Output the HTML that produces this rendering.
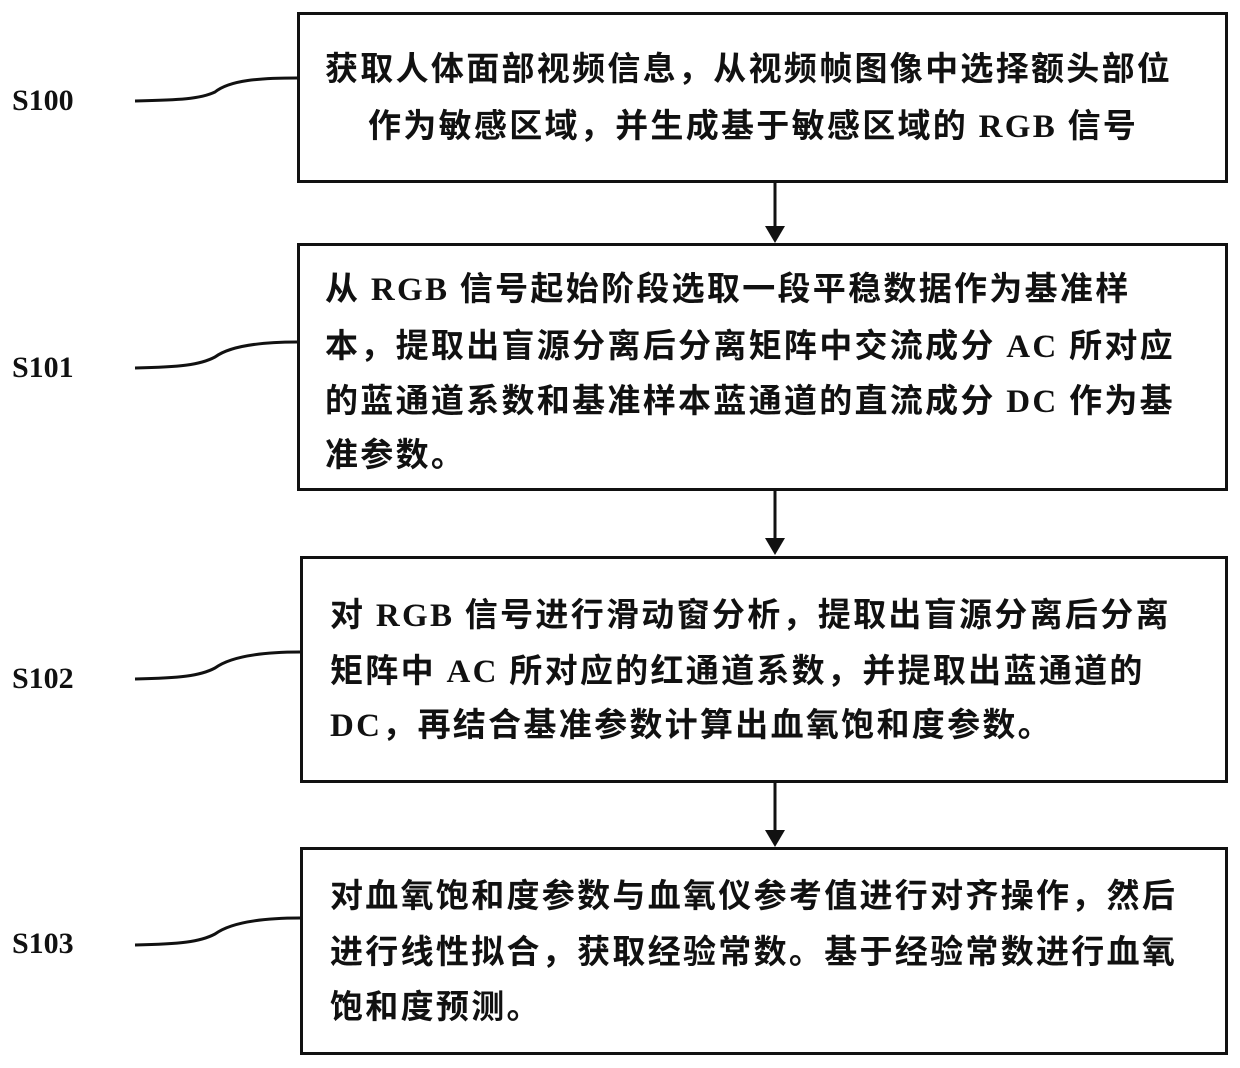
<!DOCTYPE html>
<html><head><meta charset="utf-8"><style>
body{margin:0;background:#fff;}
#c{position:relative;width:1240px;height:1068px;overflow:hidden;background:#fff;}
.box{position:absolute;border:3px solid #111;box-sizing:border-box;}
.t{position:absolute;font-family:"Liberation Serif","Noto Sans CJK SC",serif;font-weight:bold;font-size:33px;letter-spacing:2.3px;white-space:nowrap;color:#111;line-height:40px;}
.s{position:absolute;font-family:"Liberation Serif",serif;font-weight:bold;font-size:30px;color:#111;}
</style></head><body><div id="c">
<svg width="1240" height="1068" style="position:absolute;left:0;top:0">
<g stroke="#111" stroke-width="3" fill="none">
<path d="M135 101 C180 100 200 99 215 92 C230 80 260 78 297 78"/>
<path d="M135 368 C180 367 200 365 215 357 C230 346 260 342 297 342"/>
<path d="M135 679 C180 678 200 676 215 668 C230 657 260 652 300 652"/>
<path d="M135 945 C180 944 200 942 215 934 C230 923 260 918 300 918"/>
<line x1="775" y1="182" x2="775" y2="228"/>
<line x1="775" y1="490" x2="775" y2="540"/>
<line x1="775" y1="782" x2="775" y2="832"/>
</g>
<g fill="#111">
<polygon points="765,226 785,226 775,243"/>
<polygon points="765,538 785,538 775,555"/>
<polygon points="765,830 785,830 775,847"/>
</g>
</svg>
<div class="s" style="left:12px;top:84px">S100</div>
<div class="s" style="left:12px;top:351px">S101</div>
<div class="s" style="left:12px;top:662px">S102</div>
<div class="s" style="left:12px;top:927px">S103</div>

<div class="box" style="left:297px;top:12px;width:931px;height:171px"></div>
<div class="t" style="left:325px;top:50px">获取人体面部视频信息，从视频帧图像中选择额头部位</div>
<div class="t" style="left:368px;top:107px">作为敏感区域，并生成基于敏感区域的 RGB 信号</div>

<div class="box" style="left:297px;top:243px;width:931px;height:248px"></div>
<div class="t" style="left:325px;top:270px">从 RGB 信号起始阶段选取一段平稳数据作为基准样</div>
<div class="t" style="left:325px;top:327px">本，提取出盲源分离后分离矩阵中交流成分 AC 所对应</div>
<div class="t" style="left:325px;top:382px">的蓝通道系数和基准样本蓝通道的直流成分 DC 作为基</div>
<div class="t" style="left:325px;top:436px">准参数。</div>

<div class="box" style="left:300px;top:556px;width:928px;height:227px"></div>
<div class="t" style="left:330px;top:596px">对 RGB 信号进行滑动窗分析，提取出盲源分离后分离</div>
<div class="t" style="left:330px;top:652px">矩阵中 AC 所对应的红通道系数，并提取出蓝通道的</div>
<div class="t" style="left:330px;top:706px">DC，再结合基准参数计算出血氧饱和度参数。</div>

<div class="box" style="left:300px;top:847px;width:928px;height:208px"></div>
<div class="t" style="left:330px;top:877px">对血氧饱和度参数与血氧仪参考值进行对齐操作，然后</div>
<div class="t" style="left:330px;top:933px">进行线性拟合，获取经验常数。基于经验常数进行血氧</div>
<div class="t" style="left:330px;top:988px">饱和度预测。</div>
</div></body></html>
